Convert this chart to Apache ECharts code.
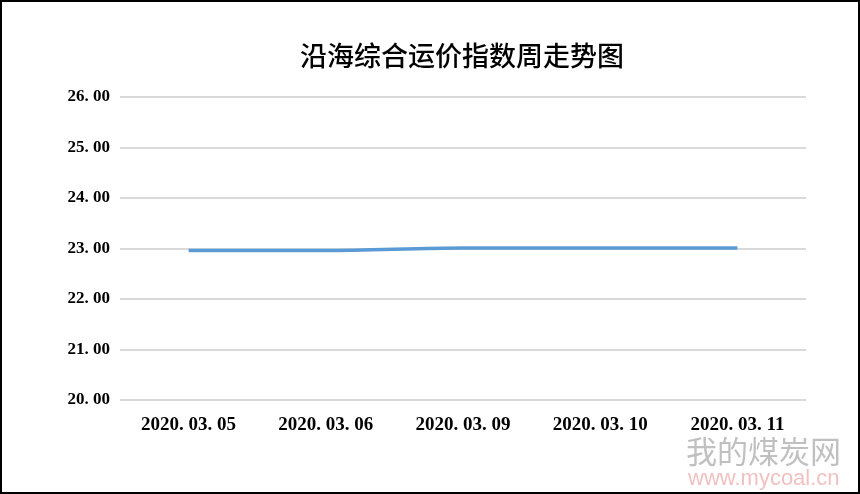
<!DOCTYPE html>
<html><head><meta charset="utf-8">
<script src="https://cdn.jsdelivr.net/npm/echarts@6/dist/echarts.min.js"></script>
<style>html,body{margin:0;padding:0;background:#fff}#c{width:860px;height:494px;box-sizing:border-box;border:2px solid #000}</style>
</head><body><div id="c"></div>
<script>
const titleText = '沿海综合运价指数周走势图';
const categories = ['2020.03.05','2020.03.06','2020.03.09','2020.03.10','2020.03.11'];
const values = [22.96, 22.96, 23.01, 23.01, 23.01];
const yMin = 20, yMax = 26, yStep = 1;

const chart = echarts.init(document.getElementById('c'));
chart.setOption({
  backgroundColor: '#fff',
  animation: false,
  title: {
    text: titleText, left: 455, top: 35, textAlign: 'center',
    textStyle: {fontFamily: 'Noto Sans CJK SC', fontSize: 27, fontWeight: 500, color: '#000'}
  },
  grid: {left: 118, right: 52, top: 95, bottom: 92},
  xAxis: {
    type: 'category', data: categories, boundaryGap: true,
    axisLine: {show: false}, axisTick: {show: false},
    axisLabel: {
      margin: 16, color: '#000', fontSize: 19, fontWeight: 'bold',
      fontFamily: 'Liberation Serif',
      formatter: v => v.replace(/\./g, '. ')
    }
  },
  yAxis: {
    type: 'value', min: yMin, max: yMax, interval: yStep,
    axisLine: {show: false}, axisTick: {show: false},
    splitLine: {lineStyle: {color: '#d9d9d9', width: 2}},
    axisLabel: {
      margin: 10, color: '#000', fontSize: 17, fontWeight: 'bold',
      fontFamily: 'Liberation Serif',
      formatter: v => v.toFixed(2).replace('.', '. ')
    }
  },
  series: [{
    type: 'line', data: values, smooth: 0.3, showSymbol: false,
    lineStyle: {color: '#5b9bd5', width: 3.5}, itemStyle: {color: '#5b9bd5'}
  }],
  graphic: [
    {type: 'text', left: 684, top: 434, style: {text: '我的煤炭网', fontSize: 31, fill: 'rgba(150,150,150,0.6)', fontFamily: 'Noto Sans CJK SC'}},
    {type: 'text', left: 686, top: 466, style: {text: 'www.mycoal.cn', fontSize: 22, fill: 'rgba(230,140,140,0.55)', fontFamily: 'Liberation Sans'}}
  ]
});
</script></body></html>
